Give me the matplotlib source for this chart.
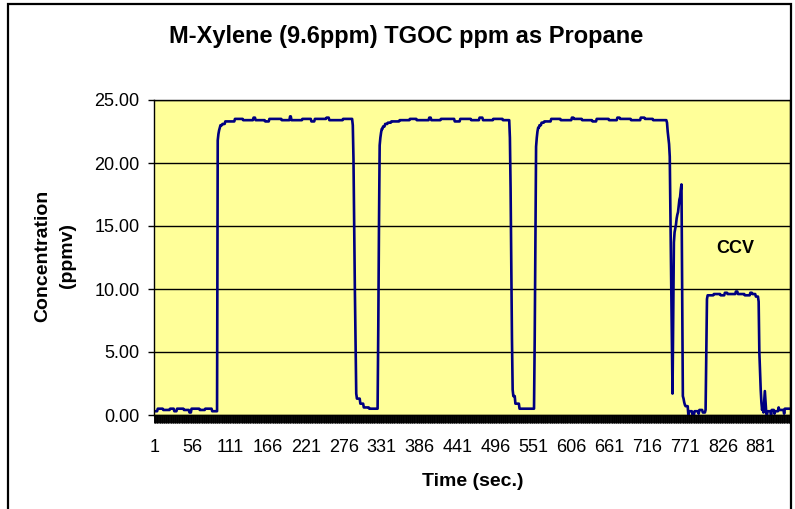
import matplotlib
matplotlib.use("Agg")
import matplotlib.pyplot as plt
import numpy as np
from matplotlib.patches import Rectangle

plt.rcParams['font.family'] = ['Liberation Sans', 'DejaVu Sans']

# readings, stored as (value, how many consecutive seconds)
baseline_vals = [0.3, 0.5, 0.4, 0.5, 0.3, 0.5, 0.4, 0.2, 0.5, 0.4, 0.5, 0.3]
baseline_reps = [5, 8, 10, 6, 4, 10, 8, 3, 12, 8, 10, 8]

rise1_vals = [21.8, 22.3, 22.6, 22.8, 23.0, 23.1, 23.3]
rise1_reps = [1, 1, 1, 1, 3, 4, 4]

plateau1_vals = [23.3, 23.5, 23.4, 23.6, 23.4, 23.3, 23.5, 23.4, 23.7, 23.4, 23.5, 23.3, 23.5, 23.6, 23.4, 23.5]
plateau1_reps = [10, 12, 15, 3, 14, 6, 18, 12, 2, 16, 13, 5, 17, 4, 20, 14]

fall1_vals = [23.0, 20.3, 15.0, 10.0, 5.5, 1.7, 1.3, 0.9, 0.6, 0.5]
fall1_reps = [1, 1, 1, 1, 1, 1, 5, 5, 8, 12]

rise2_vals = [0.5, 7.0, 15.0, 21.4, 22.0, 22.4, 22.7, 22.9, 23.1, 23.2]
rise2_reps = [1, 1, 1, 1, 1, 1, 2, 3, 4, 5]

plateau2_vals = [23.3, 23.4, 23.5, 23.4, 23.6, 23.4, 23.5, 23.3, 23.5, 23.4, 23.6, 23.4, 23.5, 23.4]
plateau2_reps = [12, 15, 10, 18, 3, 14, 20, 8, 16, 12, 5, 15, 14, 10]

fall2_vals = [22.0, 18.0, 12.0, 6.0, 2.0, 1.5, 0.9, 0.5]
fall2_reps = [1, 1, 1, 1, 1, 3, 6, 22]

rise3_vals = [6.0, 14.0, 21.3, 22.0, 22.5, 22.8, 23.0, 23.2]
rise3_reps = [1, 1, 1, 1, 1, 2, 3, 4]

plateau3_vals = [23.3, 23.5, 23.4, 23.6, 23.5, 23.4, 23.3, 23.5, 23.4, 23.6, 23.5, 23.4, 23.6, 23.5, 23.4]
plateau3_reps = [10, 14, 16, 3, 12, 15, 6, 18, 12, 4, 16, 14, 6, 12, 20]

drop_vals = [23.2, 22.5, 22.0, 21.5, 20.5, 16.0, 11.0, 6.0, 1.7, 7.5, 13.7, 14.5, 14.8, 15.1,
             15.6, 15.9, 16.1, 16.6, 17.1, 17.3, 17.9, 18.3, 10.0, 1.5, 1.3, 1.0, 0.8,
             0.7, 0.0, 0.3, 0.0, 0.3, 0.1, 0.4, 0.2, 0.4, 5.0, 9.2, 9.5]
drop_reps = [1] * 27 + [4, 1, 5, 3, 6, 1, 5, 4, 1, 1, 1, 1]

ccv_vals = [9.5, 9.6, 9.5, 9.7, 9.6, 9.8, 9.6, 9.5, 9.7, 9.6, 9.4]
ccv_reps = [8, 10, 6, 4, 12, 3, 10, 8, 3, 5, 4]

tail_vals = [9.0, 5.0, 3.5, 2.0, 1.0, 0.4, 0.8, 0.2, 1.0, 1.9, 1.0, 0.2, 0.0,
             0.3, 0.0, 0.4, 0.1, 0.3, 0.6, 0.4, 0.1, 0.5]
tail_reps = [1] * 13 + [5, 1, 4, 1, 5, 1, 7, 1, 8]

segments = [
    (baseline_vals, baseline_reps), (rise1_vals, rise1_reps), (plateau1_vals, plateau1_reps),
    (fall1_vals, fall1_reps), (rise2_vals, rise2_reps), (plateau2_vals, plateau2_reps),
    (fall2_vals, fall2_reps), (rise3_vals, rise3_reps), (plateau3_vals, plateau3_reps),
    (drop_vals, drop_reps), (ccv_vals, ccv_reps), (tail_vals, tail_reps),
]
conc = np.concatenate([np.repeat(v, r) for v, r in segments])
time_sec = np.arange(1, len(conc) + 1)
n = len(conc)

label_every = 55
y_ticks = [0, 5, 10, 15, 20, 25]

fig = plt.figure(figsize=(7.95, 5.09), dpi=100)
ax = fig.add_axes([154 / 795, 1 - 415 / 509, (790 - 154) / 795, (415 - 100) / 509])
ax.set_facecolor('#FFFF99')

ax.plot(time_sec, conc, color='#000080', lw=1.9, solid_joinstyle='round')

ax.set_xlim(0.5, n + 0.5)
ax.set_ylim(0, 25)
ax.set_yticks(y_ticks)
ax.set_yticklabels([f"{v:.2f}" for v in y_ticks])
ax.grid(axis='y', color='black', lw=1.0)
ax.set_axisbelow(True)

xt = time_sec[::label_every]
ax.set_xticks(xt)
ax.set_xticklabels([str(t) for t in xt])
ax.set_xticks(np.arange(0.5, n + 1, 1), minor=True)
ax.tick_params(axis='x', which='major', length=0, pad=17, labelsize=13)
ax.tick_params(axis='x', which='minor', length=5.8, width=0.7, direction='out')
ax.tick_params(axis='y', length=4.5, width=1.0, direction='out', pad=6, labelsize=13)

for s in ax.spines.values():
    s.set_color('black')
    s.set_linewidth(1.0)

ax.text(844, 13.2, 'CCV', fontsize=13, fontweight='bold', ha='center', va='center')

fig.text(406 / 795, 1 - 37 / 509, 'M-Xylene (9.6ppm) TGOC ppm as Propane',
         fontsize=17, fontweight='bold', ha='center', va='center')
fig.text(473 / 795, 1 - 482 / 509, 'Time (sec.)', fontsize=14, fontweight='bold',
         ha='center', va='center')
fig.text(55 / 795, 1 - 256 / 509, 'Concentration\n(ppmv)', fontsize=14, fontweight='bold',
         ha='center', va='center', rotation=90, multialignment='center', linespacing=1.6)

# chart border
fig.patches.append(Rectangle((8 / 795, -0.05), (791 - 8) / 795, 1.05 - 4 / 509,
                             transform=fig.transFigure, fill=False, ec='black', lw=1.6))

fig.savefig('out.png', dpi=100)
